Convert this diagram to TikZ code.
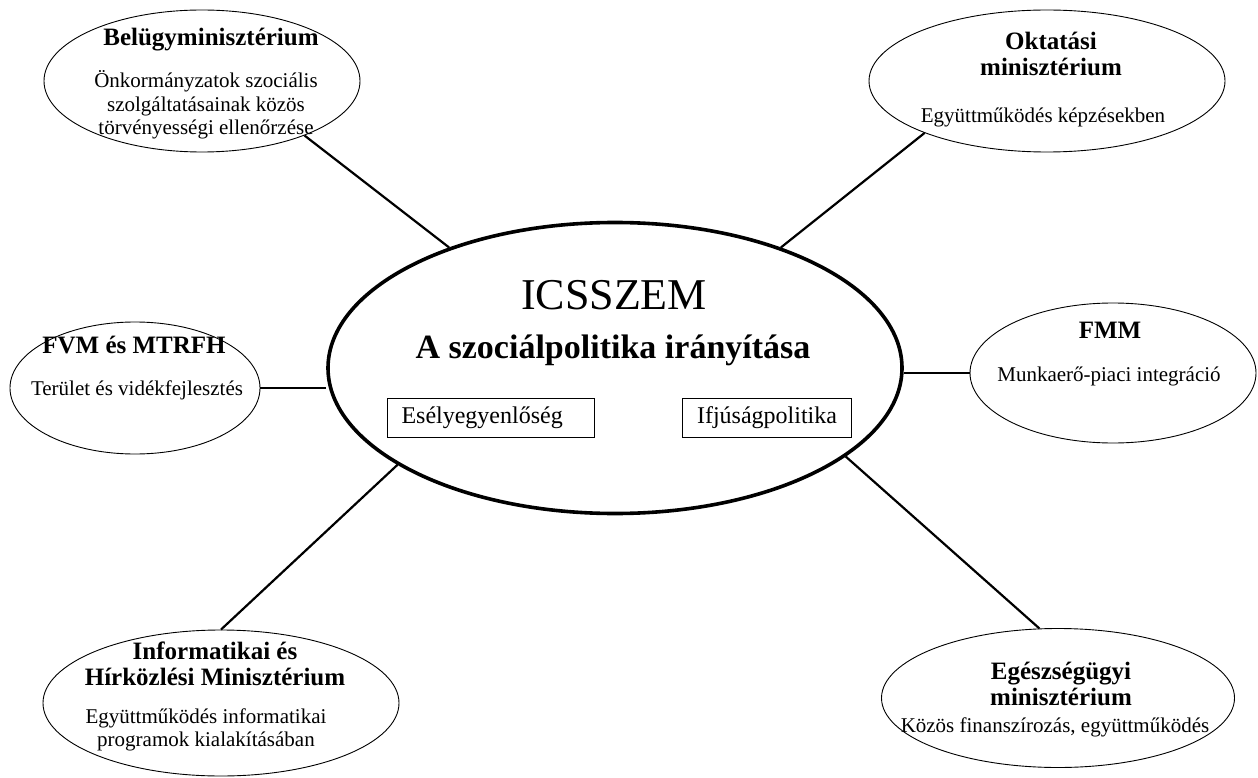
\documentclass[tikz,border=0pt]{standalone}
\usepackage{fontspec}
\setmainfont{Liberation Serif}
\usetikzlibrary{shapes.geometric, positioning}

\tikzset{
  office/.style={draw, ellipse, inner sep=0pt, line width=0.9pt},
  hub/.style={draw, ellipse, inner sep=0pt, line width=3.6pt},
  link/.style={line width=2.2pt},
  head/.style={font=\fontsize{25}{26}\selectfont\bfseries, align=center, inner sep=0pt},
  task/.style={font=\fontsize{21}{23.5}\selectfont, align=center, inner sep=0pt},
  field/.style={draw, line width=1.2pt, minimum height=39pt, font=\fontsize{24}{26}\selectfont}
}

\begin{document}
\begin{tikzpicture}[x=1pt, y=-1pt]
  \useasboundingbox (0,0) rectangle (1258,778);
  % kozep
  \node[hub, minimum width=574pt, minimum height=291pt] (icsszem) at (615,368) {};
  \node[font=\fontsize{44}{46}\selectfont] (icsname) at (614,295) {ICSSZEM};
  \node[font=\fontsize{34}{36}\selectfont\bfseries] (icsrole) at (613,350) {A szociálpolitika irányítása};
  \node[field, text width=179pt, inner xsep=14pt, align=left] (esely) at (491,418) {Esélyegyenlőség};
  \node[field, minimum width=169pt] (ifju) at (767,418) {Ifjúságpolitika};
  % minisztériumok
  \node[office, minimum width=316pt, minimum height=142pt] (bel) at (202,81) {};
  \node[office, minimum width=356pt, minimum height=142pt] (okt) at (1047,81) {};
  \node[office, minimum width=250pt, minimum height=132pt] (fvm) at (135,388) {};
  \node[office, minimum width=286pt, minimum height=140pt] (fmm) at (1113,373) {};
  \node[office, minimum width=356pt, minimum height=146pt] (inf) at (221,703) {};
  \node[office, minimum width=353pt, minimum height=139pt] (egs) at (1058,698) {};
  % feliratok
  \node[head] (beltitle) at (211,40) {Belügyminisztérium};
  \node[task] (beltask) at (206,105) {Önkormányzatok szociális\\szolgáltatásainak közös\\törvényességi ellenőrzése};
  \node[head] (okttitle) at (1051,54) {Oktatási\\minisztérium};
  \node[task] (okttask) at (1043,117) {Együttműködés képzésekben};
  \node[head] (fvmtitle) at (134,345) {FVM és MTRFH};
  \node[task] (fvmtask) at (137,390) {Terület és vidékfejlesztés};
  \node[head] (fmmtitle) at (1110,330) {FMM};
  \node[task] (fmmtask) at (1109,376) {Munkaerő-piaci integráció};
  \node[head] (inftitle) at (215,664) {Informatikai és\\Hírközlési Minisztérium};
  \node[task] (inftask) at (206,730) {Együttműködés informatikai\\programok kialakításában};
  \node[head] (egstitle) at (1061,684) {Egészségügyi\\minisztérium};
  \node[task] (egstask) at (1055,727) {Közös finanszírozás, együttműködés};
  % kapcsolatok
  \draw[link] (bel.-28) -- (icsszem.144);
  \draw[link] (okt.-157) -- (icsszem.36);
  \draw[link] (fvm.east) -- (icsszem.west |- fvm.east);
  \draw[link] (fmm.west) -- (icsszem.east |- fmm.west);
  \draw[link] (inf.north) -- (icsszem.-156);
  \draw[link] (egs.105) -- (icsszem.-21);
\end{tikzpicture}
\end{document}
